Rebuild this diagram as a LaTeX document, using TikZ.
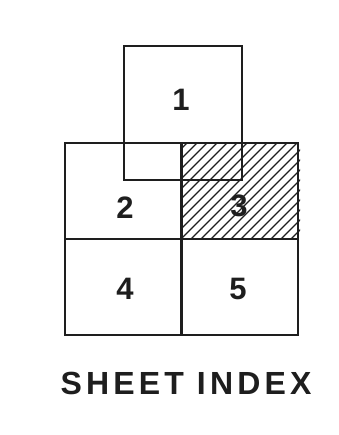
\documentclass[tikz,border=0pt]{standalone}
\usepackage{fontspec}
\setmainfont{Liberation Sans}
\usetikzlibrary{positioning}
\definecolor{inkgray}{RGB}{30,30,30}

\begin{document}
\begin{tikzpicture}[x=1pt,y=-1pt,line width=2.2pt,draw=inkgray,
  sheetnum/.style={text=inkgray,inner sep=0pt,font=\fontsize{31}{31}\selectfont\bfseries},
  hatchline/.style={line width=1.1pt}]
\useasboundingbox (0,0) rectangle (338,435);
% hatching of sheet 3
\begin{scope}
\clip (181,143) rectangle (300,239);
\foreach \k in {0,...,22} {\draw[hatchline] (81+\k*10,239) -- ++(100,-100);}
\end{scope}
% grid of sheets 2 to 5
\foreach \x/\y in {65/143,181/143,65/239,181/239} {\draw (\x,\y) rectangle +(117,96);}
% sheet 1 laid over the grid
\draw (124,46) rectangle (242,180);
\node[sheetnum] (s1) at (181,100) {1};
\node[sheetnum] (s2) at (125,208) {2};
\node[sheetnum] (s3) at (239,206) {3};
\node[sheetnum] (s4) at (125,289) {4};
\node[sheetnum] (s5) at (238,289) {5};
\node[text=inkgray,inner sep=0pt,font=\fontsize{32}{32}\selectfont\bfseries\addfontfeature{LetterSpace=13}] (title) at (186,383) {SHEET INDEX};
\end{tikzpicture}
\end{document}
